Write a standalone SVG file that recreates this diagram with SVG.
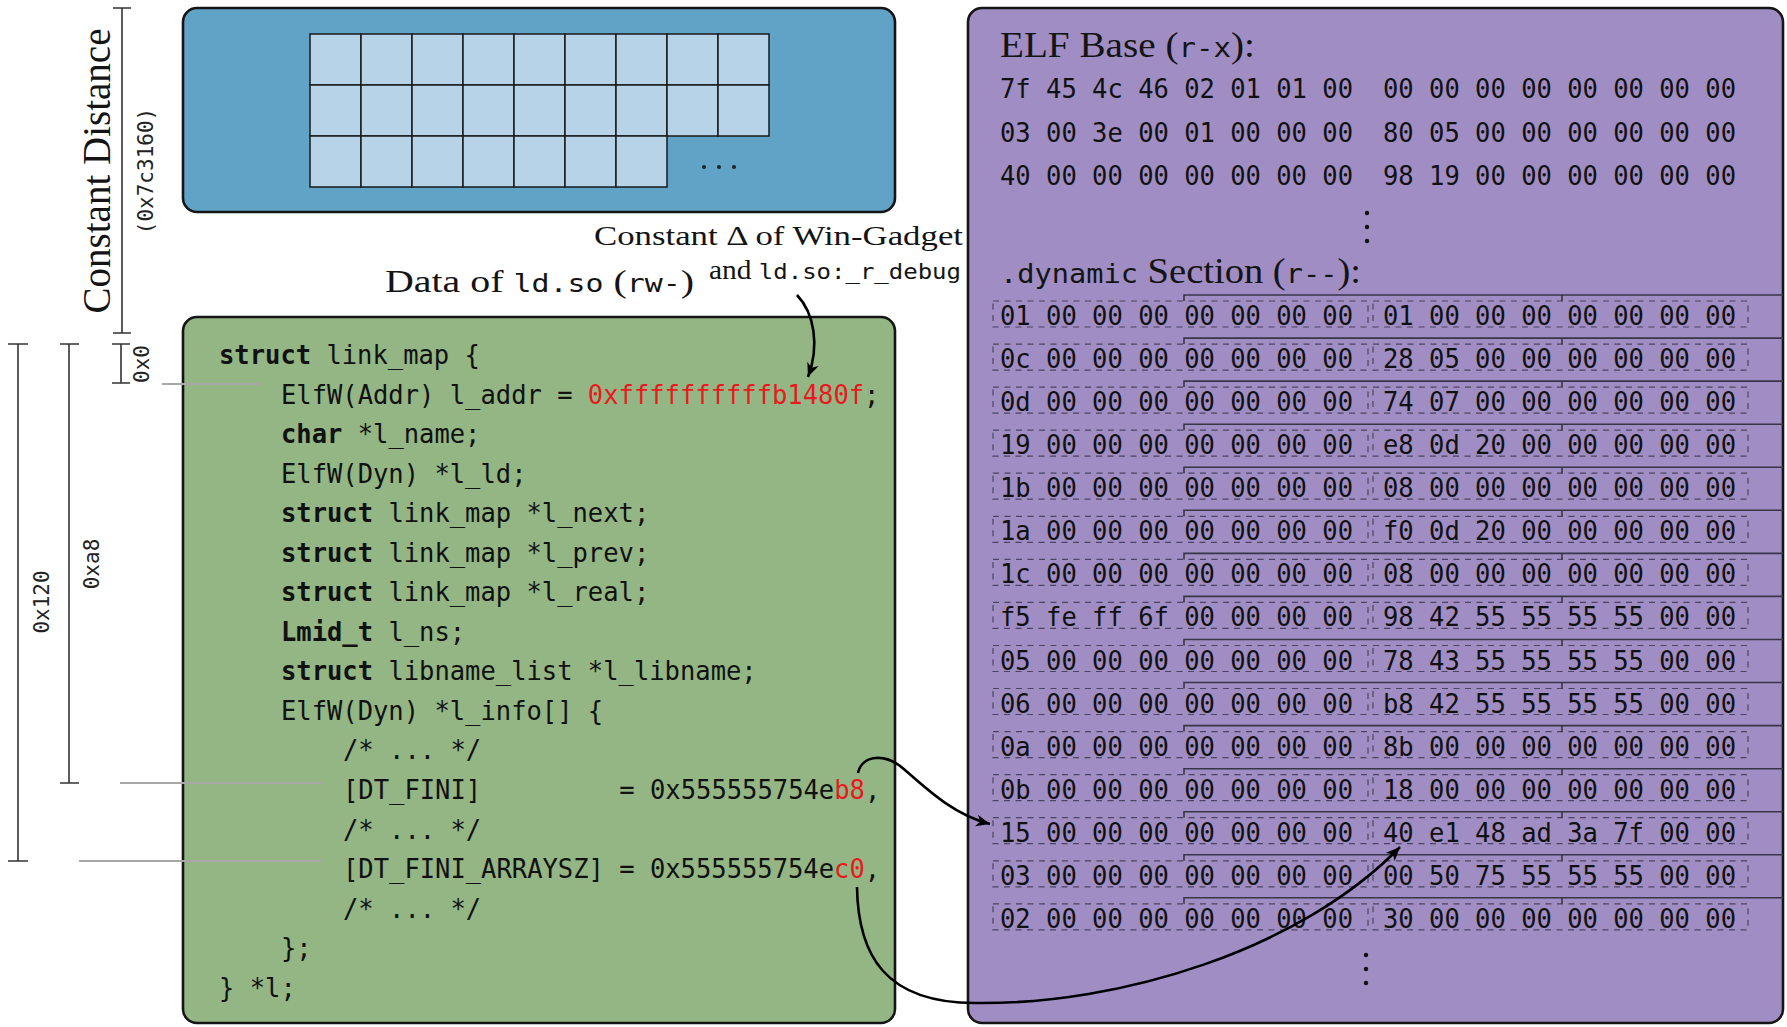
<svg xmlns="http://www.w3.org/2000/svg" xmlns:xlink="http://www.w3.org/1999/xlink" width="1787" height="1027" viewBox="0 0 1787 1027">
<style>
.serif{font-family:"Liberation Serif","Times New Roman",serif;fill:#141414}
.m{font-family:"DejaVu Sans Mono",monospace}
.code{font-family:"DejaVu Sans Mono",monospace;font-size:27px;fill:#111}
.hex{font-family:"DejaVu Sans Mono",monospace;font-size:27px;fill:#111}
.kw{font-weight:bold}
.red{fill:#e8191f}
.lbl{font-family:"DejaVu Sans Mono",monospace;font-size:21px;fill:#222}
.dim{stroke:#333;stroke-width:1.6;fill:none}
.lead{stroke:#a8a8a8;stroke-width:2;fill:none}
.conn{stroke:#000;stroke-width:2.6;fill:none;marker-end:url(#arr)}
.dash{stroke:#4b4460;stroke-width:1.2;fill:none;stroke-dasharray:6 5.5}
.solid{stroke:#3a3448;stroke-width:1.6;fill:none}
.box{stroke:#151515;stroke-width:2.6}
.cell{fill:#b7d3e8;stroke:#1a1a1a;stroke-width:1.5}
</style>
<defs>
<marker id="arr" viewBox="0 -7 16 14" refX="14" refY="0" markerWidth="16" markerHeight="14" markerUnits="userSpaceOnUse" orient="auto">
<path d="M0,-6 L14,0 L0,6 L4,0 z" fill="#000"/>
</marker>
<g id="rowdeco">
<rect class="dash" x="993" y="-24" width="375" height="26"/>
<rect class="dash" x="1373" y="-24" width="375" height="26"/>
<path class="solid" d="M1184,-24 V-30 H1783 M1562,-30 V-24"/>
</g>
</defs>

<g id="win-gadget-region">
<rect class="box" x="183" y="8" width="712" height="204" rx="14" fill="#61a3c7"/>
<g id="grid">
<rect class="cell" x="310" y="34" width="51" height="51"/><rect class="cell" x="361" y="34" width="51" height="51"/><rect class="cell" x="412" y="34" width="51" height="51"/><rect class="cell" x="463" y="34" width="51" height="51"/><rect class="cell" x="514" y="34" width="51" height="51"/><rect class="cell" x="565" y="34" width="51" height="51"/><rect class="cell" x="616" y="34" width="51" height="51"/><rect class="cell" x="667" y="34" width="51" height="51"/><rect class="cell" x="718" y="34" width="51" height="51"/>
<rect class="cell" x="310" y="85" width="51" height="51"/><rect class="cell" x="361" y="85" width="51" height="51"/><rect class="cell" x="412" y="85" width="51" height="51"/><rect class="cell" x="463" y="85" width="51" height="51"/><rect class="cell" x="514" y="85" width="51" height="51"/><rect class="cell" x="565" y="85" width="51" height="51"/><rect class="cell" x="616" y="85" width="51" height="51"/><rect class="cell" x="667" y="85" width="51" height="51"/><rect class="cell" x="718" y="85" width="51" height="51"/>
<rect class="cell" x="310" y="136" width="51" height="51"/><rect class="cell" x="361" y="136" width="51" height="51"/><rect class="cell" x="412" y="136" width="51" height="51"/><rect class="cell" x="463" y="136" width="51" height="51"/><rect class="cell" x="514" y="136" width="51" height="51"/><rect class="cell" x="565" y="136" width="51" height="51"/><rect class="cell" x="616" y="136" width="51" height="51"/>
</g>
<g fill="#222"><circle cx="704" cy="167" r="2"/><circle cx="719" cy="167" r="2"/><circle cx="734" cy="167" r="2"/></g>
</g>

<g id="ldso-data">
<rect class="box" x="183" y="317" width="712" height="706" rx="14" fill="#93b684"/>
<g transform="scale(0.9444 1)">
<text class="code" x="231.9" y="364"><tspan class="kw">struct</tspan> link_map {</text>
<text class="code" x="297.5" y="403.6">ElfW(Addr) l_addr = <tspan class="red">0xffffffffffb1480f</tspan>;</text>
<text class="code" x="297.5" y="443.1"><tspan class="kw">char</tspan> *l_name;</text>
<text class="code" x="297.5" y="482.7">ElfW(Dyn) *l_ld;</text>
<text class="code" x="297.5" y="522.2"><tspan class="kw">struct</tspan> link_map *l_next;</text>
<text class="code" x="297.5" y="561.8"><tspan class="kw">struct</tspan> link_map *l_prev;</text>
<text class="code" x="297.5" y="601.3"><tspan class="kw">struct</tspan> link_map *l_real;</text>
<text class="code" x="297.5" y="640.9"><tspan class="kw">Lmid_t</tspan> l_ns;</text>
<text class="code" x="297.5" y="680.4"><tspan class="kw">struct</tspan> libname_list *l_libname;</text>
<text class="code" x="297.5" y="720">ElfW(Dyn) *l_info[] {</text>
<text class="code" x="363.2" y="759.5">/* ... */</text>
<text class="code" x="363.2" y="799.1">[DT_FINI]<tspan x="655.8">= 0x555555754e</tspan><tspan class="red">b8</tspan>,</text>
<text class="code" x="363.2" y="838.6">/* ... */</text>
<text class="code" x="363.2" y="878.2">[DT_FINI_ARRAYSZ] = 0x555555754e<tspan class="red">c0</tspan>,</text>
<text class="code" x="363.2" y="917.7">/* ... */</text>
<text class="code" x="297.5" y="957.3">};</text>
<text class="code" x="231.9" y="996.8">} *l;</text>
</g>
</g>

<g id="elf-base">
<rect class="box" x="968" y="8" width="815" height="1015" rx="14" fill="#9f8dc3"/>
<text class="serif" x="1000" y="57" font-size="35" textLength="255" lengthAdjust="spacingAndGlyphs">ELF Base (<tspan class="m" font-size="26">r-x</tspan>):</text>
<g id="elf-hex">
<text class="hex" x="1000" y="98" textLength="353" lengthAdjust="spacingAndGlyphs">7f 45 4c 46 02 01 01 00</text><text class="hex" x="1383" y="98" textLength="353" lengthAdjust="spacingAndGlyphs">00 00 00 00 00 00 00 00</text>
<text class="hex" x="1000" y="141.5" textLength="353" lengthAdjust="spacingAndGlyphs">03 00 3e 00 01 00 00 00</text><text class="hex" x="1383" y="141.5" textLength="353" lengthAdjust="spacingAndGlyphs">80 05 00 00 00 00 00 00</text>
<text class="hex" x="1000" y="185" textLength="353" lengthAdjust="spacingAndGlyphs">40 00 00 00 00 00 00 00</text><text class="hex" x="1383" y="185" textLength="353" lengthAdjust="spacingAndGlyphs">98 19 00 00 00 00 00 00</text>
</g>
<g fill="#111"><circle cx="1367" cy="213" r="2.2"/><circle cx="1367" cy="227" r="2.2"/><circle cx="1367" cy="241" r="2.2"/></g>
<text class="serif" x="1000" y="283" font-size="35" textLength="361" lengthAdjust="spacingAndGlyphs"><tspan class="m" font-size="26">.dynamic</tspan> Section (<tspan class="m" font-size="26">r--</tspan>):</text>

<g id="dynamic-rows">
<use xlink:href="#rowdeco" href="#rowdeco" y="325"/>
<use xlink:href="#rowdeco" href="#rowdeco" y="368.1"/>
<use xlink:href="#rowdeco" href="#rowdeco" y="411.1"/>
<use xlink:href="#rowdeco" href="#rowdeco" y="454.2"/>
<use xlink:href="#rowdeco" href="#rowdeco" y="497.2"/>
<use xlink:href="#rowdeco" href="#rowdeco" y="540.3"/>
<use xlink:href="#rowdeco" href="#rowdeco" y="583.4"/>
<use xlink:href="#rowdeco" href="#rowdeco" y="626.4"/>
<use xlink:href="#rowdeco" href="#rowdeco" y="669.5"/>
<use xlink:href="#rowdeco" href="#rowdeco" y="712.5"/>
<use xlink:href="#rowdeco" href="#rowdeco" y="755.6"/>
<use xlink:href="#rowdeco" href="#rowdeco" y="798.7"/>
<use xlink:href="#rowdeco" href="#rowdeco" y="841.7"/>
<use xlink:href="#rowdeco" href="#rowdeco" y="884.8"/>
<use xlink:href="#rowdeco" href="#rowdeco" y="927.8"/>
<text class="hex" x="1000" y="325" textLength="353" lengthAdjust="spacingAndGlyphs">01 00 00 00 00 00 00 00</text><text class="hex" x="1383" y="325" textLength="353" lengthAdjust="spacingAndGlyphs">01 00 00 00 00 00 00 00</text>
<text class="hex" x="1000" y="368.1" textLength="353" lengthAdjust="spacingAndGlyphs">0c 00 00 00 00 00 00 00</text><text class="hex" x="1383" y="368.1" textLength="353" lengthAdjust="spacingAndGlyphs">28 05 00 00 00 00 00 00</text>
<text class="hex" x="1000" y="411.1" textLength="353" lengthAdjust="spacingAndGlyphs">0d 00 00 00 00 00 00 00</text><text class="hex" x="1383" y="411.1" textLength="353" lengthAdjust="spacingAndGlyphs">74 07 00 00 00 00 00 00</text>
<text class="hex" x="1000" y="454.2" textLength="353" lengthAdjust="spacingAndGlyphs">19 00 00 00 00 00 00 00</text><text class="hex" x="1383" y="454.2" textLength="353" lengthAdjust="spacingAndGlyphs">e8 0d 20 00 00 00 00 00</text>
<text class="hex" x="1000" y="497.2" textLength="353" lengthAdjust="spacingAndGlyphs">1b 00 00 00 00 00 00 00</text><text class="hex" x="1383" y="497.2" textLength="353" lengthAdjust="spacingAndGlyphs">08 00 00 00 00 00 00 00</text>
<text class="hex" x="1000" y="540.3" textLength="353" lengthAdjust="spacingAndGlyphs">1a 00 00 00 00 00 00 00</text><text class="hex" x="1383" y="540.3" textLength="353" lengthAdjust="spacingAndGlyphs">f0 0d 20 00 00 00 00 00</text>
<text class="hex" x="1000" y="583.4" textLength="353" lengthAdjust="spacingAndGlyphs">1c 00 00 00 00 00 00 00</text><text class="hex" x="1383" y="583.4" textLength="353" lengthAdjust="spacingAndGlyphs">08 00 00 00 00 00 00 00</text>
<text class="hex" x="1000" y="626.4" textLength="353" lengthAdjust="spacingAndGlyphs">f5 fe ff 6f 00 00 00 00</text><text class="hex" x="1383" y="626.4" textLength="353" lengthAdjust="spacingAndGlyphs">98 42 55 55 55 55 00 00</text>
<text class="hex" x="1000" y="669.5" textLength="353" lengthAdjust="spacingAndGlyphs">05 00 00 00 00 00 00 00</text><text class="hex" x="1383" y="669.5" textLength="353" lengthAdjust="spacingAndGlyphs">78 43 55 55 55 55 00 00</text>
<text class="hex" x="1000" y="712.5" textLength="353" lengthAdjust="spacingAndGlyphs">06 00 00 00 00 00 00 00</text><text class="hex" x="1383" y="712.5" textLength="353" lengthAdjust="spacingAndGlyphs">b8 42 55 55 55 55 00 00</text>
<text class="hex" x="1000" y="755.6" textLength="353" lengthAdjust="spacingAndGlyphs">0a 00 00 00 00 00 00 00</text><text class="hex" x="1383" y="755.6" textLength="353" lengthAdjust="spacingAndGlyphs">8b 00 00 00 00 00 00 00</text>
<text class="hex" x="1000" y="798.7" textLength="353" lengthAdjust="spacingAndGlyphs">0b 00 00 00 00 00 00 00</text><text class="hex" x="1383" y="798.7" textLength="353" lengthAdjust="spacingAndGlyphs">18 00 00 00 00 00 00 00</text>
<text class="hex" x="1000" y="841.7" textLength="353" lengthAdjust="spacingAndGlyphs">15 00 00 00 00 00 00 00</text><text class="hex" x="1383" y="841.7" textLength="353" lengthAdjust="spacingAndGlyphs">40 e1 48 ad 3a 7f 00 00</text>
<text class="hex" x="1000" y="884.8" textLength="353" lengthAdjust="spacingAndGlyphs">03 00 00 00 00 00 00 00</text><text class="hex" x="1383" y="884.8" textLength="353" lengthAdjust="spacingAndGlyphs">00 50 75 55 55 55 00 00</text>
<text class="hex" x="1000" y="927.8" textLength="353" lengthAdjust="spacingAndGlyphs">02 00 00 00 00 00 00 00</text><text class="hex" x="1383" y="927.8" textLength="353" lengthAdjust="spacingAndGlyphs">30 00 00 00 00 00 00 00</text>
</g>
<g fill="#111"><circle cx="1366" cy="955" r="2.2"/><circle cx="1366" cy="969" r="2.2"/><circle cx="1366" cy="983" r="2.2"/></g>
</g>

<g id="labels">
<text class="serif" x="385" y="292" font-size="32" textLength="309" lengthAdjust="spacingAndGlyphs">Data of <tspan class="m" font-size="24">ld.so</tspan> (<tspan class="m" font-size="24">rw-</tspan>)</text>
<text class="serif" x="594" y="245" font-size="27" textLength="369" lengthAdjust="spacingAndGlyphs">Constant Δ of Win-Gadget</text>
<text class="serif" x="709" y="279" font-size="27" textLength="252" lengthAdjust="spacingAndGlyphs">and <tspan class="m" font-size="22">ld.so:_r_debug</tspan></text>
</g>

<g id="dimensions">
<path class="dim" d="M122,8 V333 M113,8 H131 M113,333 H131"/>
<text class="serif" transform="translate(110,171) rotate(-90)" text-anchor="middle" font-size="41" textLength="285" lengthAdjust="spacingAndGlyphs">Constant Distance</text>
<text class="lbl" transform="translate(153,171) rotate(-90)" text-anchor="middle" font-size="22">(0x7c3160)</text>
<path class="dim" d="M121,344 V383 M112,344 H130 M112,383 H130"/>
<text class="lbl" transform="translate(149,364) rotate(-90)" text-anchor="middle">0x0</text>
<path class="dim" d="M69,344 V783 M60,344 H79 M60,783 H79"/>
<text class="lbl" transform="translate(99,564) rotate(-90)" text-anchor="middle">0xa8</text>
<path class="dim" d="M18,344 V861 M8,344 H28 M8,861 H28"/>
<text class="lbl" transform="translate(49,602) rotate(-90)" text-anchor="middle">0x120</text>
<path class="lead" d="M162,384 H259 M120,783 H322 M79,861 H322"/>
</g>

<g id="connectors">
<path class="conn" d="M797,295 C814,313 820,345 808,377"/>
<path class="conn" d="M858,773 C862,755 885,752 905,770 C930,792 955,815 990,824"/>
<path class="conn" d="M857,887 C858,955 885,1003 975,1003 C1120,1005 1300,950 1400,847"/>
</g>
</svg>
